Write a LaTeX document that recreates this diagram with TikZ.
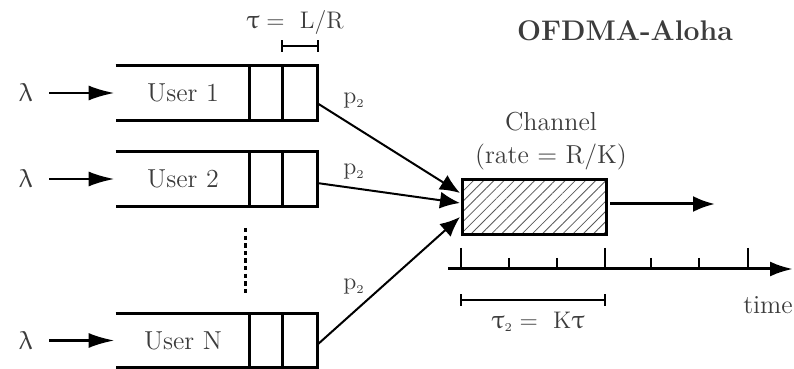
\documentclass[tikz,border=0pt]{standalone}
\usepackage{upgreek}
\usetikzlibrary{arrows.meta,patterns.meta}
\definecolor{txt}{HTML}{3C3C3C}
\begin{document}
\begin{tikzpicture}[x=0.5pt,y=-0.5pt,
  every node/.style={font=\fontsize{13}{15}\selectfont, text=txt, inner sep=0pt},
  buf/.style={minimum width=100.5pt, minimum height=27pt, draw=none},
  bufline/.style={line width=1.5pt},
  conn/.style={line width=1pt, -{Latex[length=10pt,width=8.5pt]}},
  inarrow/.style={line width=1.3pt, -{Latex[length=13pt,width=7.5pt]}},
  tick/.style={line width=1.3pt},
  title/.style={font=\fontsize{14.2}{16}\selectfont\bfseries}
]
\useasboundingbox (0,0) rectangle (794,369);

% users
\foreach \n/\y/\lab in {1/93/User 1, 2/179/User 2, N/340.5/User N}{
  \node[buf] (u\n) at (216.5,\y) {};
  \draw[bufline] (u\n.north west) -- (u\n.north east) -- (u\n.south east) -- (u\n.south west);
  \draw[bufline] ([xshift=-34pt]u\n.north east) -- ([xshift=-34pt]u\n.south east);
  \draw[bufline] ([xshift=-17.5pt]u\n.north east) -- ([xshift=-17.5pt]u\n.south east);
  \node (t\n) at (183,\y) {\lab};
  \node (l\n) at (26,\y) {$\uplambda$};
  \draw[inarrow, shorten <=8pt, shorten >=0.5pt] (l\n.east) -- (u\n.west);
}

% dots
\coordinate (d1) at (245,228);
\coordinate (d2) at (245,294);
\draw[line width=1.5pt, dash pattern=on 2.2pt off 1.6pt] (d1) -- (d2);

% tau = L/R
\node (tau) at (295,23) {$\uptau =\ \mathrm{L}/\mathrm{R}$};
\coordinate (b1) at (282,46);
\coordinate (b2) at (318,46);
\draw[tick] (b1) -- (b2);
\draw[tick] ([yshift=2.8pt]b1) -- ([yshift=-2.8pt]b1);
\draw[tick] ([yshift=2.8pt]b2) -- ([yshift=-2.8pt]b2);

% channel
\node[draw, line width=1.5pt, minimum width=72pt, minimum height=27.5pt,
  pattern={Lines[angle=45,distance=3.6pt,line width=0.4pt]}, pattern color=black!65] (ch) at (534,207.5) {};
\node (chl1) at (551,122) {Channel};
\node (chl2) at (551,157) {(rate = R/K)};

% connectors
\coordinate (e1) at (317,103);
\coordinate (e2) at (317,183);
\coordinate (eN) at (317,345);
\draw[conn] (e1) -- (460,193);
\draw[conn] (e2) -- (460,203);
\draw[conn] (eN) -- (460,217);
\node (p1) at (354,101) {$\mathrm{p}_{\scriptscriptstyle 2}$};
\node (p2) at (354,172) {$\mathrm{p}_{\scriptscriptstyle 2}$};
\node (pN) at (354,287) {$\mathrm{p}_{\scriptscriptstyle 2}$};

% output arrow
\coordinate (o2) at (715,204);
\draw[line width=1.5pt, -{Latex[length=11pt,width=8pt]}] ([xshift=2pt]ch.east |- o2) -- (o2);

% time axis
\coordinate (a1) at (448,269);
\coordinate (a2) at (793,269);
\draw[line width=1.5pt, -{Latex[length=11.5pt,width=7.5pt]}] (a1) -- (a2);
\foreach \x in {461,605,748}{ \draw[tick] (\x,248) -- (\x,269); }
\foreach \x in {509,557,651,699}{ \draw[tick] (\x,258) -- (\x,269); }
\node (time) at (768,305) {time};

% tau2 bracket
\coordinate (c1) at (461,300);
\coordinate (c2) at (605,300);
\draw[tick] (c1) -- (c2);
\draw[tick] ([yshift=2.8pt]c1) -- ([yshift=-2.8pt]c1);
\draw[tick] ([yshift=2.8pt]c2) -- ([yshift=-2.8pt]c2);
\node (tau2) at (538,322) {$\uptau_{\scriptscriptstyle 2} =\ \mathrm{K}\uptau$};

% title
\node[title] (ttl) at (625,31) {OFDMA-Aloha};
\end{tikzpicture}
\end{document}
